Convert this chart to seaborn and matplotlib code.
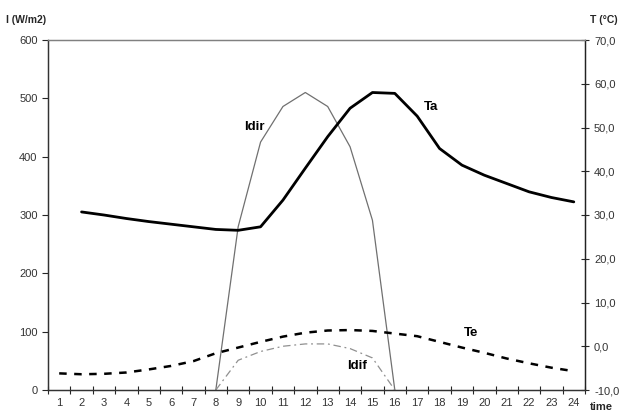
import numpy as np
import pandas as pd
import seaborn as sns
import matplotlib.pyplot as plt
from matplotlib.ticker import FuncFormatter

# hourly values
hours = list(range(1, 25))
ta_hours = list(range(2, 25))
ta = [30.7, 30.0, 29.2, 28.5, 27.9, 27.3, 26.7, 26.5, 27.3, 33.4, 40.7, 47.9,
      54.4, 58.0, 57.8, 52.6, 45.2, 41.4, 39.1, 37.2, 35.3, 34.0, 33.0]
te = [-6.2, -6.4, -6.3, -6.0, -5.3, -4.5, -3.4, -1.6, -0.3, 1.0, 2.2, 3.1,
      3.6, 3.7, 3.5, 2.9, 2.3, 1.0, -0.3, -1.5, -2.8, -3.9, -4.9, -5.7]
sun_hours = list(range(8, 17))
idir = [0, 280, 425, 486, 510, 486, 417, 291, 0]
idif = [0, 51, 66, 75, 79, 79, 71, 55, 0]

sns.set_style("white")
plt.rcParams['font.family'] = ['Liberation Sans', 'DejaVu Sans']

df_sun = pd.DataFrame({"hour": sun_hours, "Idir": idir, "Idif": idif})
df_ta = pd.DataFrame({"hour": ta_hours, "Ta": ta})
df_te = pd.DataFrame({"hour": hours, "Te": te})

fig = plt.figure(figsize=(6.27, 4.12), dpi=100)
ax = fig.add_axes([48 / 627, 22 / 412, 537 / 627, 350 / 412])
ax2 = ax.twinx()

# irradiance on the left axis
sns.lineplot(data=df_sun, x="hour", y="Idir", ax=ax, color="#707070", lw=0.9)
sns.lineplot(data=df_sun, x="hour", y="Idif", ax=ax, color="#909090", lw=0.9,
             linestyle=(0, (6, 3, 1.5, 3)))

# temperatures on the right axis
sns.lineplot(data=df_ta, x="hour", y="Ta", ax=ax2, color="black", lw=2.0)
sns.lineplot(data=df_te, x="hour", y="Te", ax=ax2, color="black", lw=1.8,
             linestyle=(0, (3, 3)))

ax.set_xlim(0.5, 24.5)
ax.set_ylim(0, 600)
ax2.set_ylim(-10, 70)

# category-style x axis: ticks between hours, labels at hours
ax.set_xticks(np.arange(0.5, 25, 1))
ax.set_xticklabels([])
ax.set_xticks(hours, minor=True)
ax.set_xticklabels([str(h) for h in hours], minor=True, fontsize=8, color="#333333")
ax.tick_params(axis="x", which="major", direction="inout", length=6, width=0.8, bottom=True)
ax.tick_params(axis="x", which="minor", length=0, pad=6)

ax.set_yticks(range(0, 601, 100))
ax.tick_params(axis="y", direction="out", length=4, width=0.8, labelsize=8,
               labelcolor="#333333", left=True)
ax2.set_yticks(range(-10, 71, 10))
ax2.yaxis.set_major_formatter(FuncFormatter(lambda v, p: f"{v:.1f}".replace(".", ",")))
ax2.tick_params(axis="y", direction="inout", length=6, width=0.8, labelsize=8,
                labelcolor="#333333", right=True)

for a in (ax, ax2):
    a.set_xlabel("")
    a.set_ylabel("")
    for s in a.spines.values():
        s.set_linewidth(0.9)
    a.spines["left"].set_color("#333333")
    a.spines["bottom"].set_color("#333333")
    a.spines["right"].set_color("#222222")
    a.spines["top"].set_color("#808080")

# series labels
lab = dict(fontsize=9.5, fontweight="bold", color="black")
ax.text(10.2, 450, "Idir", ha="right", va="center", **lab)
ax.text(17.6, 485, "Ta", ha="center", va="center", **lab)
ax.text(19.4, 98, "Te", ha="center", va="center", **lab)
ax.text(14.3, 41, "Idif", ha="center", va="center", **lab)

fig.text(6 / 627, 1 - 20 / 412, "I (W/m2)", fontsize=7.5, fontweight="bold", va="center")
fig.text(618 / 627, 1 - 20 / 412, "T (°C)", fontsize=7.5, fontweight="bold", va="center", ha="right")
fig.text(601 / 627, 1 - 407 / 412, "time", fontsize=8, fontweight="bold", va="center", ha="center")

fig.savefig("out.png", dpi=100)
plt.close(fig)
